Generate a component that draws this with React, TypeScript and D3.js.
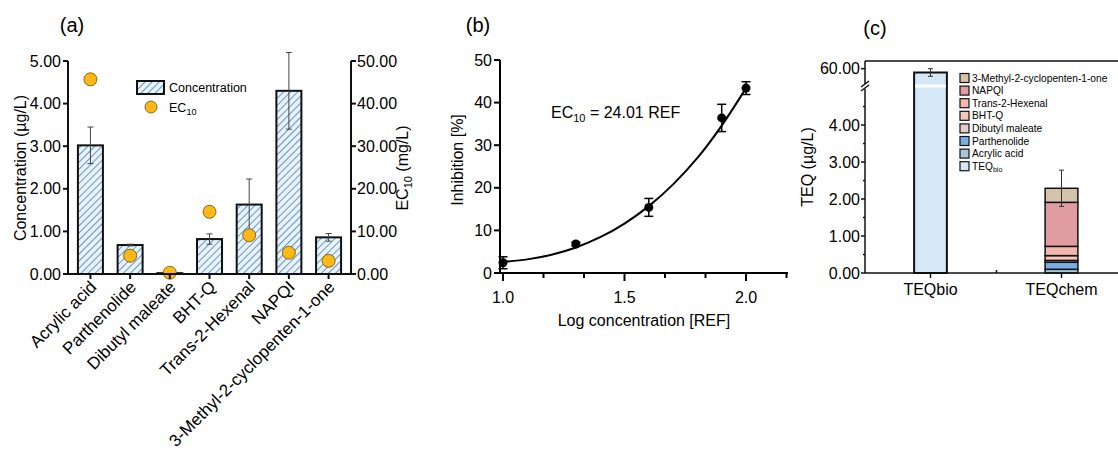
import React from 'react';
import * as d3 from 'd3';

// ---------- panel (a) data ----------
const categories = ['Acrylic acid', 'Parthenolide', 'Dibutyl maleate', 'BHT-Q', 'Trans-2-Hexenal', 'NAPQI', '3-Methyl-2-cyclopenten-1-one'];
const concentration = [3.02, 0.68, 0.02, 0.82, 1.63, 4.3, 0.86];
const concentrationErr = [0.43, 0.02, 0.01, 0.12, 0.6, 0.9, 0.09];
const ec10 = [45.7, 4.3, 0.3, 14.6, 9.1, 5.0, 3.1];
const concTicks = [0, 1, 2, 3, 4, 5];
const ecTicks = [0, 10, 20, 30, 40, 50];

// ---------- panel (b) data ----------
const logConc = [1.0, 1.3, 1.6, 1.9, 2.0];
const inhibition = [2.4, 6.8, 15.4, 36.4, 43.4];
const inhibitionErr = [1.4, 0.4, 2.1, 3.2, 1.5];
const fitLogConc = [1.0, 1.1, 1.2, 1.3, 1.4, 1.5, 1.6, 1.7, 1.8, 1.9, 2.0];
const fitInhibition = [2.6, 3.2, 4.3, 6.0, 8.4, 11.6, 15.7, 20.8, 27.0, 34.6, 43.4];
const inhibTicks = [0, 10, 20, 30, 40, 50];
const logTicks = [1.0, 1.5, 2.0];
const logMinorTicks = [1.0, 1.1667, 1.3333, 1.5, 1.6667, 1.8333, 2.0, 2.1667];

// ---------- panel (c) data ----------
const teqCategories = ['TEQbio', 'TEQchem'];
const teqBio = 59.5;
const teqBioErr = 0.5;
const chemicals = ['Acrylic acid', 'Parthenolide', 'Dibutyl maleate', 'BHT-Q', 'Trans-2-Hexenal', 'NAPQI', '3-Methyl-2-cyclopenten-1-one'];
const teqChem = [0.1, 0.19, 0.05, 0.13, 0.25, 1.19, 0.38];
const teqChemErr = 0.49;
const chemColors = ['#a8c3d9', '#79aee3', '#e5cbcb', '#f6c6ba', '#f2b8ae', '#e09ca0', '#d5c3ac'];
const teqBioColor = '#d4e8f6';
const teqLowTicks = [0, 1, 2, 3, 4];
const teqLowMinor = [0.5, 1.5, 2.5, 3.5, 4.5];
const teqHighTicks = [60];

const FONT = '"Liberation Sans", Arial, Helvetica, sans-serif';

function PanelA() {
  const x = d3.scaleBand().domain(categories).range([68, 351]).paddingInner(0.37).paddingOuter(0.25);
  const y = d3.scaleLinear().domain([0, 5]).range([274, 61]);
  const y2 = d3.scaleLinear().domain([0, 50]).range([274, 61]);
  const bw = x.bandwidth();
  return (
    <g>
      <text x={72} y={32} fontSize={20} textAnchor="middle">(a)</text>
      {categories.map((c, i) => {
        const cx = x(c)! + bw / 2;
        const top = y(concentration[i]);
        return (
          <g key={c}>
            <rect x={x(c)} y={top} width={bw} height={y(0) - top} fill="url(#hatch)" stroke="#111" strokeWidth={2} />
            <line x1={cx} x2={cx} y1={y(concentration[i] + concentrationErr[i])} y2={y(concentration[i] - concentrationErr[i])} stroke="#444" strokeWidth={1} />
            <line x1={cx - 3} x2={cx + 3} y1={y(concentration[i] + concentrationErr[i])} y2={y(concentration[i] + concentrationErr[i])} stroke="#444" strokeWidth={1} />
            <line x1={cx - 3} x2={cx + 3} y1={y(concentration[i] - concentrationErr[i])} y2={y(concentration[i] - concentrationErr[i])} stroke="#444" strokeWidth={1} />
          </g>
        );
      })}
      {categories.map((c, i) => (
        <circle key={c} cx={x(c)! + bw / 2} cy={y2(ec10[i])} r={6.5} fill="#fbb817" stroke="#6b5200" strokeWidth={0.8} />
      ))}
      {/* axes */}
      <line x1={68} x2={68} y1={61} y2={275} stroke="#111" strokeWidth={2} />
      <line x1={351} x2={351} y1={61} y2={275} stroke="#111" strokeWidth={2} />
      <line x1={67} x2={352} y1={274} y2={274} stroke="#111" strokeWidth={2} />
      {concTicks.map(t => (
        <g key={t}>
          <line x1={63} x2={68} y1={y(t)} y2={y(t)} stroke="#111" strokeWidth={2} />
          <text x={61} y={y(t)} fontSize={16} textAnchor="end" dominantBaseline="central">{t.toFixed(2)}</text>
        </g>
      ))}
      {ecTicks.map(t => (
        <g key={t}>
          <line x1={351} x2={356} y1={y2(t)} y2={y2(t)} stroke="#111" strokeWidth={2} />
          <text x={357} y={y2(t)} fontSize={16} textAnchor="start" dominantBaseline="central">{t.toFixed(2)}</text>
        </g>
      ))}
      {categories.map(c => {
        const cx = x(c)! + bw / 2;
        return (
          <g key={c}>
            <line x1={cx} x2={cx} y1={274} y2={279} stroke="#111" strokeWidth={2} />
            <text transform={`translate(${cx + 7},${288}) rotate(-45)`} fontSize={17} textAnchor="end">{c}</text>
          </g>
        );
      })}
      <text transform="translate(26,168) rotate(-90)" fontSize={16} textAnchor="middle">Concentration (µg/L)</text>
      <text transform="translate(408,168) rotate(-90)" fontSize={16} textAnchor="middle">
        EC<tspan fontSize={11} dy={4}>10</tspan><tspan dy={-4}> (mg/L)</tspan>
      </text>
      {/* legend */}
      <rect x={137} y={81} width={27} height={13} fill="url(#hatch)" stroke="#111" strokeWidth={2} />
      <text x={169} y={88} fontSize={12.5} dominantBaseline="central">Concentration</text>
      <circle cx={151} cy={107} r={6} fill="#fbb817" stroke="#6b5200" strokeWidth={0.8} />
      <text x={169} y={108} fontSize={12.5} dominantBaseline="central">EC<tspan fontSize={9} dy={4}>10</tspan></text>
    </g>
  );
}

function PanelB() {
  const x = d3.scaleLinear().domain([1, 2]).range([503, 746]);
  const y = d3.scaleLinear().domain([0, 50]).range([273, 60]);
  const line = d3.line<number>().x((_, i) => x(fitLogConc[i])).y(d => y(d)).curve(d3.curveMonotoneX);
  return (
    <g>
      <text x={478} y={32} fontSize={20} textAnchor="middle">(b)</text>
      <path d={line(fitInhibition) || ''} fill="none" stroke="#000" strokeWidth={2} />
      {logConc.map((v, i) => {
        const cx = x(v);
        const hi = y(inhibition[i] + inhibitionErr[i]);
        const lo = y(inhibition[i] - inhibitionErr[i]);
        return (
          <g key={v}>
            <line x1={cx} x2={cx} y1={hi} y2={lo} stroke="#000" strokeWidth={1.5} />
            <line x1={cx - 4.5} x2={cx + 4.5} y1={hi} y2={hi} stroke="#000" strokeWidth={1.5} />
            <line x1={cx - 4.5} x2={cx + 4.5} y1={lo} y2={lo} stroke="#000" strokeWidth={1.5} />
            <circle cx={cx} cy={y(inhibition[i])} r={4.5} fill="#000" />
          </g>
        );
      })}
      <line x1={500} x2={500} y1={60} y2={274} stroke="#000" strokeWidth={2} />
      <line x1={500} x2={788} y1={273} y2={273} stroke="#000" strokeWidth={2} />
      {inhibTicks.map(t => (
        <g key={t}>
          <line x1={494} x2={500} y1={y(t)} y2={y(t)} stroke="#000" strokeWidth={2} />
          <text x={492} y={y(t)} fontSize={16} textAnchor="end" dominantBaseline="central">{t}</text>
        </g>
      ))}
      {logMinorTicks.map(t => (
        <line key={t} x1={x(t)} x2={x(t)} y1={273} y2={logTicks.some(m => Math.abs(m - t) < 1e-3) ? 281 : 278} stroke="#000" strokeWidth={2} />
      ))}
      {logTicks.map(t => (
        <text key={t} x={x(t)} y={297} fontSize={16} textAnchor="middle" dominantBaseline="central">{t.toFixed(1)}</text>
      ))}
      <text x={551} y={118} fontSize={16}>EC<tspan fontSize={11} dy={4}>10</tspan><tspan dy={-4}> = 24.01 REF</tspan></text>
      <text transform="translate(463,160) rotate(-90)" fontSize={16} textAnchor="middle">Inhibition [%]</text>
      <text x={644} y={326} fontSize={16} textAnchor="middle">Log concentration [REF]</text>
    </g>
  );
}

function PanelC() {
  const x = d3.scaleBand().domain(teqCategories).range([865, 1127]).paddingInner(0.75).paddingOuter(0.375);
  const yLow = d3.scaleLinear().domain([0, 5]).range([273, 88]);
  const yHigh = d3.scaleLinear().domain([58, 61]).range([84, 61]);
  const bw = x.bandwidth();
  const bioX = x('TEQbio')!;
  const chemX = x('TEQchem')!;
  const tops = d3.cumsum(teqChem);
  const total = tops[tops.length - 1];
  const bioCx = bioX + bw / 2;
  const chemCx = chemX + bw / 2;
  const legend = chemicals.map((c, i) => ({ label: c, color: chemColors[i], sub: false })).reverse();
  legend.push({ label: 'TEQ', color: teqBioColor, sub: true });
  return (
    <g>
      <text x={875} y={35} fontSize={20} textAnchor="middle">(c)</text>
      {/* TEQbio broken bar */}
      <rect x={bioX} y={yHigh(teqBio)} width={bw} height={yLow(0) - yHigh(teqBio)} fill={teqBioColor} stroke="#111" strokeWidth={2} />
      <rect x={bioX + 1} y={84.5} width={bw - 2} height={3} fill="#fff" />
      <line x1={bioCx} x2={bioCx} y1={yHigh(teqBio + teqBioErr)} y2={yHigh(teqBio - teqBioErr)} stroke="#333" strokeWidth={1} />
      <line x1={bioCx - 2.5} x2={bioCx + 2.5} y1={yHigh(teqBio + teqBioErr)} y2={yHigh(teqBio + teqBioErr)} stroke="#333" strokeWidth={1} />
      <line x1={bioCx - 2.5} x2={bioCx + 2.5} y1={yHigh(teqBio - teqBioErr)} y2={yHigh(teqBio - teqBioErr)} stroke="#333" strokeWidth={1} />
      {/* TEQchem stacked bar */}
      {teqChem.map((v, i) => {
        const top = yLow(tops[i]);
        const bottom = yLow(tops[i] - v);
        return <rect key={i} x={chemX} y={top} width={bw} height={bottom - top} fill={chemColors[i]} stroke="#111" strokeWidth={1.5} />;
      })}
      <line x1={chemCx} x2={chemCx} y1={yLow(total + teqChemErr)} y2={yLow(total - teqChemErr)} stroke="#333" strokeWidth={1} />
      <line x1={chemCx - 2.5} x2={chemCx + 2.5} y1={yLow(total + teqChemErr)} y2={yLow(total + teqChemErr)} stroke="#333" strokeWidth={1} />
      <line x1={chemCx - 2.5} x2={chemCx + 2.5} y1={yLow(total - teqChemErr)} y2={yLow(total - teqChemErr)} stroke="#333" strokeWidth={1} />
      {/* frame and axes */}
      <line x1={865} x2={1127} y1={61} y2={61} stroke="#111" strokeWidth={1.5} />
      <line x1={865} x2={1127} y1={273} y2={273} stroke="#111" strokeWidth={1.5} />
      <line x1={1127} x2={1127} y1={61} y2={273} stroke="#111" strokeWidth={1.5} />
      <line x1={865} x2={865} y1={61} y2={84} stroke="#111" strokeWidth={1.5} />
      <line x1={865} x2={865} y1={89} y2={273} stroke="#111" strokeWidth={1.5} />
      <line x1={861} x2={869} y1={87} y2={81} stroke="#111" strokeWidth={1.5} />
      <line x1={861} x2={869} y1={91} y2={85} stroke="#111" strokeWidth={1.5} />
      {teqHighTicks.map(t => (
        <g key={t}>
          <line x1={861} x2={865} y1={yHigh(t)} y2={yHigh(t)} stroke="#111" strokeWidth={1.5} />
          <text x={860} y={yHigh(t)} fontSize={16} textAnchor="end" dominantBaseline="central">{t.toFixed(2)}</text>
        </g>
      ))}
      {teqLowTicks.map(t => (
        <g key={t}>
          <line x1={861} x2={865} y1={yLow(t)} y2={yLow(t)} stroke="#111" strokeWidth={1.5} />
          <text x={860} y={yLow(t)} fontSize={16} textAnchor="end" dominantBaseline="central">{t.toFixed(2)}</text>
        </g>
      ))}
      {teqLowMinor.map(t => (
        <line key={t} x1={863} x2={865} y1={yLow(t)} y2={yLow(t)} stroke="#111" strokeWidth={1.5} />
      ))}
      {teqCategories.map(c => {
        const cx = x(c)! + bw / 2;
        return (
          <g key={c}>
            <line x1={cx} x2={cx} y1={273} y2={278} stroke="#111" strokeWidth={1.5} />
            <text x={cx} y={289} fontSize={16} textAnchor="middle" dominantBaseline="central">{c}</text>
          </g>
        );
      })}
      <line x1={996.5} x2={996.5} y1={270} y2={273} stroke="#111" strokeWidth={1.5} />
      <text transform="translate(813,167) rotate(-90)" fontSize={16} textAnchor="middle">TEQ (µg/L)</text>
      {legend.map((d, i) => (
        <g key={d.label + i} transform={`translate(960,${78 + i * 12.6})`}>
          <rect x={0} y={-4.5} width={9} height={9} fill={d.color} stroke="#111" strokeWidth={1.2} />
          <text x={12} y={0} fontSize={10.2} dominantBaseline="central">
            {d.label}{d.sub ? <tspan fontSize={7} dy={3}>bio</tspan> : null}
          </text>
        </g>
      ))}
    </g>
  );
}

export default function App() {
  return (
    <svg width={1118} height={454} style={{ position: 'absolute', left: 0, top: 0, background: '#fff' }} fontFamily={FONT}>
      <defs>
        <pattern id="hatch" patternUnits="userSpaceOnUse" width={5} height={5} patternTransform="rotate(45)">
          <rect width={5} height={5} fill="#eaf2f9" />
          <line x1={0} y1={0} x2={0} y2={5} stroke="#5a93c7" strokeWidth={1.9} />
        </pattern>
      </defs>
      <rect width={1118} height={454} fill="#fff" />
      <PanelA />
      <PanelB />
      <PanelC />
    </svg>
  );
}
